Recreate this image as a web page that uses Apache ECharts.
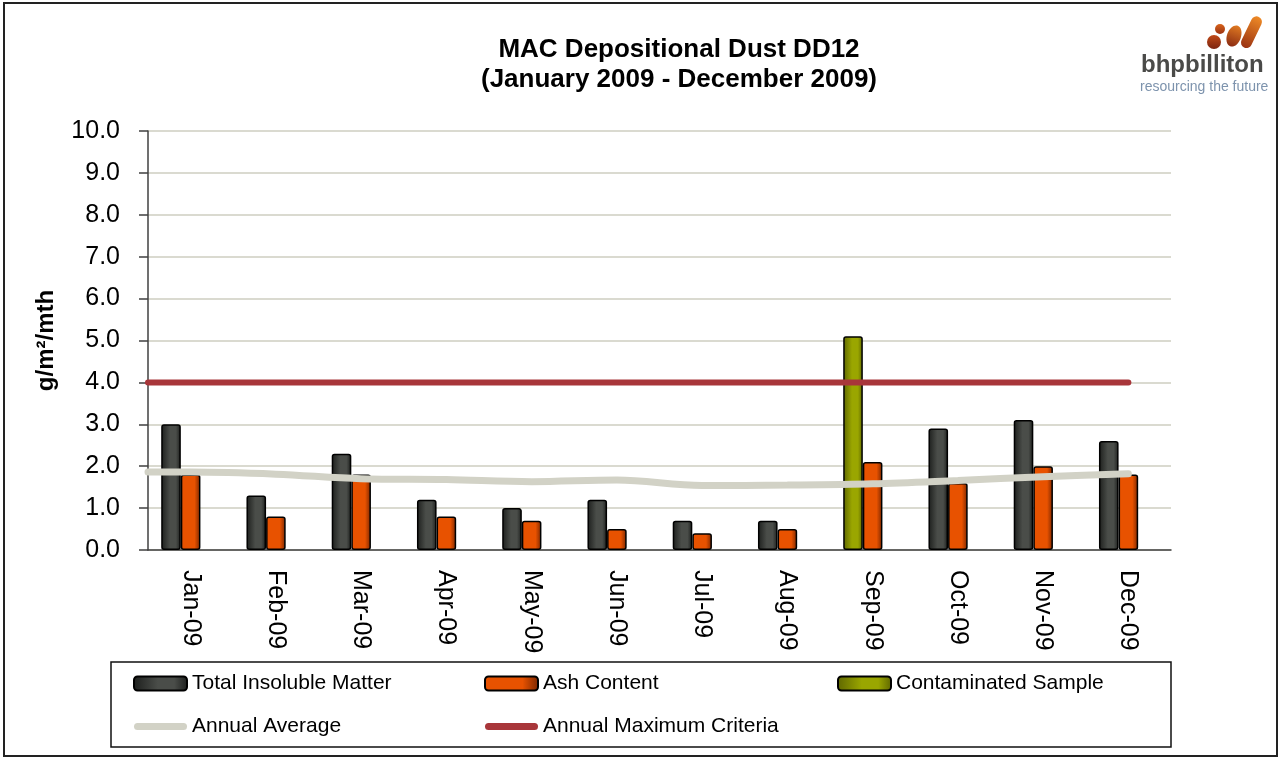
<!DOCTYPE html>
<html>
<head>
<meta charset="utf-8">
<title>MAC Depositional Dust DD12</title>
<script src="https://cdn.jsdelivr.net/npm/echarts@6/dist/echarts.min.js"></script>
<style>
  html, body { margin: 0; padding: 0; background: #fff; }
  #chart { width: 1279px; height: 758px; }
</style>
</head>
<body>
<div id="chart"></div>
<script>
// data
const months = ['Jan-09', 'Feb-09', 'Mar-09', 'Apr-09', 'May-09', 'Jun-09',
  'Jul-09', 'Aug-09', 'Sep-09', 'Oct-09', 'Nov-09', 'Dec-09']
const totalInsoluble = [3.0, 1.3, 2.3, 1.2, 1.0, 1.2, 0.7, 0.7, null, 2.9, 3.1, 2.6]
const ashContent = [1.8, 0.8, 1.8, 0.8, 0.7, 0.5, 0.4, 0.5, 2.1, 1.6, 2.0, 1.8]
const contaminated = [null, null, null, null, null, null, null, null, 5.1, null, null, null]
const annualAverage = [1.86, 1.81, 1.70, 1.68, 1.63, 1.67, 1.54, 1.55, 1.58, 1.66, 1.75, 1.82]
const annualMaxCriteria = 4.0
const yTicks = [0, 1, 2, 3, 4, 5, 6, 7, 8, 9, 10]

const FONT = 'Liberation Sans, Arial, sans-serif'

const hGrad = (edge, mid) => new echarts.graphic.LinearGradient(0, 0, 1, 0, [
  { offset: 0, color: edge },
  { offset: 0.45, color: mid },
  { offset: 0.75, color: mid },
  { offset: 1, color: edge }
])

const darkFill = hGrad('#1c1e1c', '#4a4d49')
const orangeFill = new echarts.graphic.LinearGradient(0, 0, 1, 0, [
  { offset: 0, color: '#e85200' },
  { offset: 0.7, color: '#e85200' },
  { offset: 1, color: '#7a2600' }
])
const greenFill = hGrad('#5e6600', '#9aa600')

const barBorder = { borderColor: '#000', borderWidth: 1.5, borderRadius: 2 }

// the contaminated month sits in the first bar slot (same slot as total)
const totalData = totalInsoluble.map((v, i) =>
  contaminated[i] != null
    ? { value: contaminated[i], itemStyle: { color: greenFill } }
    : v)

// lines run on a hidden value axis that shares the category scale
const avgData = [[-0.5, annualAverage[0]]].concat(annualAverage.map((v, i) => [i, v]))
const maxData = [[-0.5, annualMaxCriteria], [months.length - 1, annualMaxCriteria]]

// thick rounded line for the legend of the two line series
const lineIcon = 'path://M3.5,0 H49.5 A3.5,3.5 0 0 1 49.5,7 H3.5 A3.5,3.5 0 0 1 3.5,0 Z'

const legendText = { fontFamily: FONT, fontSize: 21, color: '#000' }

const chart = echarts.init(document.getElementById('chart'))

const option = {
  backgroundColor: '#fff',
  animation: false,
  textStyle: { fontFamily: FONT },
  title: {
    text: 'MAC Depositional Dust DD12\n(January 2009 - December 2009)',
    left: 674,
    top: 30,
    textAlign: 'center',
    textStyle: { fontFamily: FONT, fontSize: 26, fontWeight: 'bold', color: '#000', lineHeight: 30 }
  },
  grid: { left: 148, right: 108, top: 131, bottom: 208, containLabel: false },
  legend: [
    {
      data: ['Total Insoluble Matter', { name: 'Annual Average', icon: lineIcon }],
      orient: 'vertical', left: 128, top: 668, itemGap: 22,
      itemWidth: 53, itemHeight: 14,
      textStyle: legendText
    },
    {
      data: ['Ash Content', { name: 'Annual Maximum Criteria', icon: lineIcon }],
      orient: 'vertical', left: 479, top: 668, itemGap: 22,
      itemWidth: 53, itemHeight: 14,
      textStyle: legendText
    },
    {
      data: ['Contaminated Sample'],
      orient: 'vertical', left: 832, top: 668,
      itemWidth: 53, itemHeight: 14,
      textStyle: legendText
    }
  ],
  xAxis: [
    {
      type: 'category',
      data: months,
      axisLine: { onZero: false, lineStyle: { color: '#404040', width: 1.5 } },
      axisTick: { length: 8, lineStyle: { color: '#404040', width: 1.5 } },
      axisLabel: { rotate: -90, margin: 20, fontSize: 25, color: '#000', fontFamily: FONT }
    },
    {
      type: 'value',
      min: -0.5,
      max: months.length - 0.5,
      show: false
    }
  ],
  yAxis: {
    type: 'value',
    min: yTicks[0],
    max: yTicks[yTicks.length - 1],
    interval: 1,
    name: 'g/m²/mth',
    nameLocation: 'middle',
    nameRotate: 90,
    nameGap: 90,
    nameTextStyle: { fontFamily: FONT, fontSize: 24, fontWeight: 'bold', color: '#000' },
    axisLine: { show: true, onZero: false, lineStyle: { color: '#404040', width: 1.5 } },
    axisTick: { show: true, length: 9, lineStyle: { color: '#404040', width: 1.5 } },
    axisLabel: { margin: 28, fontSize: 25, color: '#000', fontFamily: FONT, formatter: v => v.toFixed(1) },
    splitLine: { lineStyle: { color: '#dadad0', width: 2 } }
  },
  series: [
    {
      name: 'Total Insoluble Matter',
      type: 'bar',
      data: totalData,
      barGap: '0%',
      barCategoryGap: '31%',
      itemStyle: Object.assign({ color: darkFill }, barBorder)
    },
    {
      name: 'Ash Content',
      type: 'bar',
      data: ashContent,
      itemStyle: Object.assign({ color: orangeFill }, barBorder)
    },
    {
      name: 'Contaminated Sample',
      type: 'bar',
      data: contaminated.map(() => null),
      itemStyle: Object.assign({ color: greenFill }, barBorder)
    },
    {
      name: 'Annual Average',
      type: 'line',
      xAxisIndex: 1,
      data: avgData,
      smooth: 0.35,
      symbol: 'none',
      clip: true,
      itemStyle: { color: '#d2d2c6' },
      lineStyle: { color: '#d2d2c6', width: 7, cap: 'round' }
    },
    {
      name: 'Annual Maximum Criteria',
      type: 'line',
      xAxisIndex: 1,
      data: maxData,
      symbol: 'none',
      clip: true,
      itemStyle: { color: '#a8363a' },
      lineStyle: { color: '#a8363a', width: 6, cap: 'round' }
    }
  ],
  graphic: [
    // outer frame
    { type: 'rect', shape: { x: 4, y: 3, width: 1273, height: 753 }, style: { fill: 'none', stroke: '#222', lineWidth: 2 }, silent: true },
    // legend box
    { type: 'rect', shape: { x: 111, y: 662, width: 1060, height: 85 }, style: { fill: 'none', stroke: '#111', lineWidth: 1.5 }, silent: true },
    // logo
    {
      type: 'group', silent: true,
      children: [
        { type: 'circle', shape: { cx: 1220, cy: 29, r: 5 }, style: { fill: new echarts.graphic.LinearGradient(0, 0, 0, 1, [{ offset: 0, color: '#d8641c' }, { offset: 1, color: '#9a3212' }]) } },
        { type: 'circle', shape: { cx: 1214, cy: 42, r: 7 }, style: { fill: new echarts.graphic.LinearGradient(0, 0, 0, 1, [{ offset: 0, color: '#c04a18' }, { offset: 1, color: '#7c2410' }]) } },
        { type: 'ellipse', shape: { cx: 1234, cy: 36, rx: 7, ry: 11 }, rotation: -0.35, originX: 1234, originY: 36, style: { fill: new echarts.graphic.LinearGradient(0, 0, 0, 1, [{ offset: 0, color: '#e07a22' }, { offset: 1, color: '#8c2c12' }]) } },
        { type: 'rect', shape: { x: 1246, y: 15, width: 11, height: 34, r: 5.5 }, rotation: -0.45, originX: 1251, originY: 32, style: { fill: new echarts.graphic.LinearGradient(0, 0, 0, 1, [{ offset: 0, color: '#ee8a26' }, { offset: 1, color: '#9a3212' }]) } },
        { type: 'text', left: 1141, top: 53, style: { text: 'bhpbilliton', font: 'bold 24px ' + FONT, fill: '#4a4a48' } },
        { type: 'text', left: 1140, top: 80, style: { text: 'resourcing the future', font: '14px ' + FONT, fill: '#7d93ad' } }
      ]
    }
  ]
}

chart.setOption(option)
</script>
</body>
</html>
